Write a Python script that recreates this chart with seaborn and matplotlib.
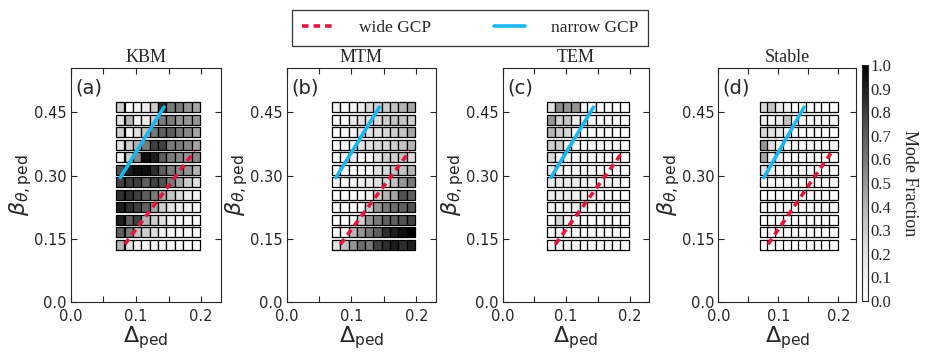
import matplotlib
matplotlib.use('Agg')
import matplotlib.pyplot as plt
import seaborn as sns
import pandas as pd
import numpy as np
from matplotlib.path import Path
from matplotlib.cm import ScalarMappable
from matplotlib.colors import Normalize

# Сетка пьедестала (ширина и высота)
delta = [0.076, 0.089, 0.102, 0.115, 0.128, 0.140, 0.153, 0.166, 0.179, 0.192]
beta = [0.462, 0.432, 0.403, 0.373, 0.343, 0.314, 0.284, 0.254, 0.225, 0.195, 0.166, 0.136]

# Доли мод, строки сверху вниз
kbm = [
    [0.30, 0.02, 0.10, 0.15, 0.30, 0.85, 0.60, 0.60, 0.50, 0.45],
    [0.20, 0.40, 0.10, 0.15, 0.30, 0.60, 0.60, 0.50, 0.50, 0.50],
    [0.30, 0.10, 0.20, 0.35, 0.60, 0.70, 0.70, 0.60, 0.55, 0.45],
    [0.20, 0.30, 0.40, 0.60, 0.80, 0.80, 0.60, 0.60, 0.55, 0.45],
    [0.10, 0.30, 0.55, 0.95, 0.90, 0.70, 0.60, 0.55, 0.50, 0.55],
    [0.75, 0.90, 0.95, 0.95, 0.85, 0.70, 0.60, 0.55, 0.50, 0.40],
    [0.80, 0.80, 0.80, 0.70, 0.80, 0.75, 0.60, 0.45, 0.30, 0.20],
    [0.85, 0.85, 0.80, 0.70, 0.60, 0.45, 0.35, 0.25, 0.15, 0.10],
    [0.90, 0.85, 0.80, 0.70, 0.45, 0.30, 0.20, 0.15, 0.10, 0.05],
    [0.90, 0.70, 0.80, 0.40, 0.30, 0.20, 0.10, 0.05, 0.05, 0.03],
    [0.70, 0.60, 0.35, 0.30, 0.20, 0.10, 0.05, 0.05, 0.02, 0.02],
    [0.40, 0.20, 0.10, 0.05, 0.03, 0.02, 0.02, 0.02, 0.02, 0.02],
]
mtm = [
    [0.10, 0.02, 0.10, 0.15, 0.25, 0.30, 0.30, 0.35, 0.40, 0.45],
    [0.02, 0.02, 0.15, 0.20, 0.20, 0.25, 0.30, 0.35, 0.35, 0.30],
    [0.02, 0.05, 0.10, 0.20, 0.20, 0.20, 0.25, 0.30, 0.35, 0.45],
    [0.02, 0.05, 0.10, 0.20, 0.20, 0.25, 0.25, 0.30, 0.35, 0.40],
    [0.02, 0.05, 0.15, 0.02, 0.05, 0.20, 0.30, 0.30, 0.35, 0.25],
    [0.05, 0.05, 0.02, 0.02, 0.05, 0.20, 0.25, 0.35, 0.35, 0.40],
    [0.02, 0.02, 0.05, 0.10, 0.15, 0.20, 0.25, 0.35, 0.50, 0.60],
    [0.02, 0.02, 0.05, 0.05, 0.10, 0.30, 0.40, 0.45, 0.75, 0.70],
    [0.02, 0.02, 0.05, 0.05, 0.30, 0.50, 0.60, 0.65, 0.70, 0.75],
    [0.02, 0.02, 0.10, 0.30, 0.50, 0.60, 0.70, 0.70, 0.75, 0.80],
    [0.02, 0.05, 0.40, 0.50, 0.60, 0.70, 0.85, 0.90, 0.95, 1.00],
    [0.20, 0.35, 0.50, 0.65, 0.60, 0.80, 0.85, 0.90, 0.85, 0.90],
]
tem = [
    [0.20, 0.55, 0.50, 0.50, 0.10, 0.02, 0.02, 0.02, 0.02, 0.02],
    [0.50, 0.30, 0.35, 0.15, 0.05, 0.02, 0.02, 0.02, 0.02, 0.02],
    [0.40, 0.30, 0.25, 0.05, 0.02, 0.02, 0.02, 0.02, 0.02, 0.02],
    [0.30, 0.30, 0.10, 0.02, 0.02, 0.02, 0.02, 0.02, 0.02, 0.02],
    [0.25, 0.10, 0.05, 0.02, 0.02, 0.02, 0.02, 0.02, 0.02, 0.02],
    [0.15, 0.05, 0.02, 0.02, 0.02, 0.02, 0.02, 0.02, 0.02, 0.02],
    [0.15, 0.15, 0.15, 0.15, 0.10, 0.05, 0.05, 0.05, 0.05, 0.02],
    [0.15, 0.15, 0.15, 0.10, 0.15, 0.10, 0.05, 0.05, 0.02, 0.02],
    [0.10, 0.10, 0.10, 0.15, 0.15, 0.05, 0.02, 0.02, 0.02, 0.02],
    [0.05, 0.25, 0.10, 0.05, 0.02, 0.02, 0.02, 0.02, 0.02, 0.02],
    [0.05, 0.10, 0.05, 0.02, 0.02, 0.02, 0.02, 0.02, 0.02, 0.02],
    [0.05, 0.05, 0.10, 0.05, 0.02, 0.02, 0.02, 0.02, 0.02, 0.02],
]
stable = [
    [0.25, 0.35, 0.15, 0.10, 0.02, 0.02, 0.02, 0.02, 0.02, 0.02],
    [0.15, 0.10, 0.15, 0.35, 0.02, 0.02, 0.02, 0.02, 0.02, 0.02],
    [0.25, 0.20, 0.15, 0.05, 0.02, 0.02, 0.02, 0.02, 0.02, 0.02],
    [0.50, 0.20, 0.05, 0.02, 0.02, 0.02, 0.02, 0.02, 0.02, 0.02],
    [0.45, 0.15, 0.10, 0.02, 0.02, 0.02, 0.02, 0.02, 0.02, 0.02],
    [0.20, 0.10, 0.02, 0.02, 0.02, 0.02, 0.02, 0.02, 0.02, 0.02],
    [0.05, 0.02, 0.02, 0.02, 0.02, 0.02, 0.02, 0.02, 0.02, 0.02],
    [0.02, 0.02, 0.02, 0.02, 0.02, 0.02, 0.02, 0.02, 0.02, 0.02],
    [0.02, 0.02, 0.02, 0.02, 0.02, 0.02, 0.02, 0.02, 0.02, 0.02],
    [0.02, 0.05, 0.02, 0.02, 0.02, 0.02, 0.02, 0.02, 0.02, 0.02],
    [0.02, 0.02, 0.02, 0.02, 0.02, 0.02, 0.02, 0.02, 0.02, 0.02],
    [0.02, 0.02, 0.02, 0.02, 0.02, 0.02, 0.02, 0.02, 0.02, 0.05],
]

modes = ['KBM', 'MTM', 'TEM', 'Stable']
letters = ['(a)', '(b)', '(c)', '(d)']
fractions = [kbm, mtm, tem, stable]

# Линии GCP
wide_delta = [0.083, 0.190]
wide_beta = [0.137, 0.358]
narrow_delta = [0.076, 0.143]
narrow_beta = [0.295, 0.462]

sns.set_style('ticks')
plt.rcParams['font.family'] = ['DejaVu Sans']
plt.rcParams['mathtext.fontset'] = 'dejavusans'
serif = ['Liberation Serif', 'DejaVu Serif']

fig = plt.figure(figsize=(9.25, 3.52), dpi=100)
W, H = 925.0, 352.0
lefts = [70.7, 286.7, 502.7, 718.3]
widths = [150, 149, 146, 138]

# прямоугольный маркер, чуть выше чем шире
rect = Path([(-0.86, -1.0), (0.86, -1.0), (0.86, 1.0), (-0.86, 1.0), (-0.86, -1.0)],
            [Path.MOVETO, Path.LINETO, Path.LINETO, Path.LINETO, Path.CLOSEPOLY])

for i in range(4):
    ax = fig.add_axes([lefts[i] / W, 50 / H, widths[i] / W, 234 / H])
    rows = []
    for r, b in enumerate(beta):
        for c, d in enumerate(delta):
            rows.append({'delta': d, 'beta': b, 'frac': fractions[i][r][c]})
    df = pd.DataFrame(rows)
    sns.scatterplot(data=df, x='delta', y='beta', hue='frac', palette='Greys',
                    hue_norm=(0, 1), marker=rect, s=50, edgecolor='black',
                    linewidth=0.9, legend=False, ax=ax, zorder=2)
    ax.plot(wide_delta, wide_beta, color='#e0163f', lw=2.6, ls=(0, (1.8, 1.4)),
            zorder=3, label='wide GCP')
    ax.plot(narrow_delta, narrow_beta, color='#1ab6ef', lw=2.6, zorder=3,
            label='narrow GCP')
    ax.set_xlim(0, 0.23)
    ax.set_ylim(0, 0.555)
    ax.set_xticks([0.0, 0.1, 0.2])
    ax.set_xticklabels(['0.0', '0.1', '0.2'])
    ax.set_xticks([0.05, 0.15], minor=True)
    ax.set_yticks([0.0, 0.15, 0.30, 0.45])
    ax.set_yticklabels(['0.0', '0.15', '0.30', '0.45'])
    ax.tick_params(which='both', direction='in', top=True, right=True,
                   length=4, width=0.8, labelsize=10.5)
    ax.tick_params(axis='x', pad=5)
    ax.tick_params(axis='y', pad=3)
    for sp in ax.spines.values():
        sp.set_linewidth(0.8)
    ax.set_xlabel(r'$\Delta_{\mathrm{ped}}$', fontsize=16, labelpad=0)
    ax.set_ylabel(r'$\beta_{\theta,\mathrm{ped}}$', fontsize=16, labelpad=0)
    ax.set_title(modes[i], fontsize=13, family=serif, pad=4)
    ax.text(0.03, 0.955, letters[i], transform=ax.transAxes, fontsize=14,
            va='top', ha='left')

# Легенда сверху
handles, labels = ax.get_legend_handles_labels()
leg = fig.legend(handles, labels, loc='upper center', bbox_to_anchor=(0.508, 0.995),
                 ncol=2, frameon=True, fancybox=False, edgecolor='black',
                 handlelength=1.8, columnspacing=3.6, handletextpad=1.5,
                 prop={'family': serif, 'size': 12.5}, borderpad=0.55)
leg.get_frame().set_linewidth(0.9)

# Цветовая шкала
cax = fig.add_axes([862 / W, 51 / H, 6 / W, 236 / H])
sm = ScalarMappable(norm=Normalize(0, 1), cmap='Greys')
cb = fig.colorbar(sm, cax=cax, ticks=np.arange(0, 1.01, 0.1))
cb.outline.set_linewidth(0.8)
cax.set_yticklabels(['%.1f' % t for t in np.arange(0, 1.01, 0.1)], family=serif)
cax.tick_params(labelsize=12, direction='in', length=3, width=0.6, pad=2)
cb.set_label('Mode Fraction', rotation=270, family=serif, fontsize=13, labelpad=19)

plt.savefig('out.png', dpi=100)
